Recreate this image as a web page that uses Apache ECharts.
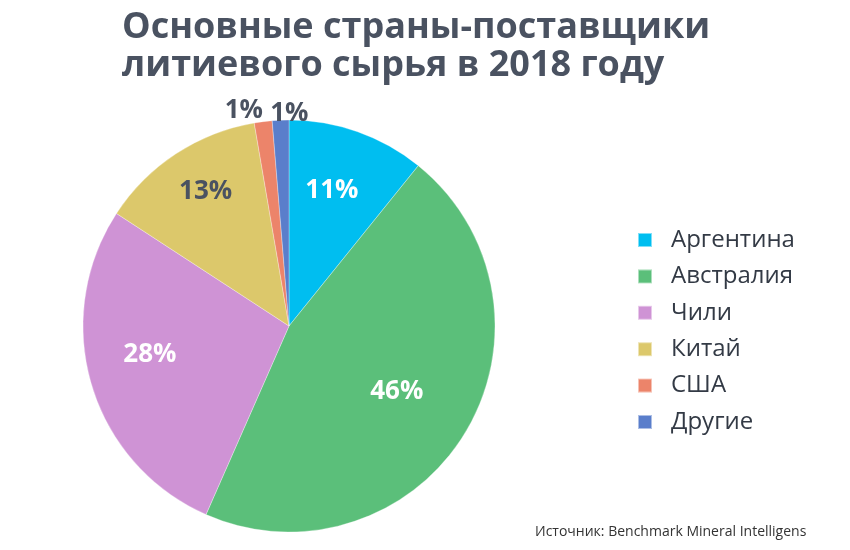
<!DOCTYPE html>
<html>
<head>
<meta charset="utf-8">
<script src="https://cdn.jsdelivr.net/npm/echarts@6/dist/echarts.min.js"></script>
<style>html,body{margin:0;padding:0;background:#fff}#c{width:850px;height:550px}</style>
</head>
<body>
<div id="c"></div>
<script>
const categories = ['Аргентина', 'Австралия', 'Чили', 'Китай', 'США', 'Другие'];
const shares = [10.8, 45.8, 27.6, 13.1, 1.4, 1.3];
const colors = ['#00bef0', '#5bbf7a', '#cf93d5', '#dcc86b', '#ec846a', '#5a7ecb'];
const labelColors = ['#ffffff', '#ffffff', '#ffffff', '#4a5261', '#4a5261', '#4a5261'];
const titleText = 'Основные страны-поставщики\nлитиевого сырья в 2018 году';
const sourceText = 'Источник: Benchmark Mineral Intelligens';

const CX = 289, CY = 326, R = 206;
const labelRadius = [144, 125, 141, 161, 217, 213];
const shiftX = [-5, 1, -4, 5, -18, 9];
const shiftY = [0, 1, -12, 0, 0, 0];

const chart = echarts.init(document.getElementById('c'));
chart.setOption({
  animation: false,
  color: colors,
  title: [{
    text: titleText,
    left: 117, top: 4,
    textStyle: { fontFamily: 'Open Sans', fontWeight: 'bold', fontSize: 36, lineHeight: 38, color: '#4a5261' }
  }, {
    text: sourceText,
    left: 530, top: 520,
    textStyle: { fontFamily: 'Open Sans', fontWeight: 'normal', fontSize: 14, color: '#333333' }
  }],
  legend: {
    orient: 'vertical',
    left: 632, top: 223,
    itemWidth: 14, itemHeight: 14, itemGap: 12.4,
    icon: 'rect',
    textStyle: { fontFamily: 'Open Sans', fontSize: 24, color: '#333a45', padding: [0, 0, 0, 14] },
    data: categories
  },
  series: [{
    type: 'pie',
    center: [CX, CY],
    radius: [0, R],
    startAngle: 90,
    clockwise: true,
    avoidLabelOverlap: false,
    itemStyle: { borderColor: 'rgba(255,255,255,0.5)', borderWidth: 0.6 },
    label: {
      show: true,
      position: 'inside',
      fontFamily: 'Open Sans',
      fontWeight: 'bold',
      fontSize: 26,
      formatter: p => Math.round(p.value) + '%'
    },
    labelLine: { show: false },
    labelLayout: function (p) {
      const r = p.labelRect;
      const cx = r.x + r.width / 2, cy = r.y + r.height / 2;
      const vx = cx - CX, vy = cy - CY;
      const d = Math.sqrt(vx * vx + vy * vy) || 1;
      const t = labelRadius[p.dataIndex] / d;
      return { dx: vx * t - vx + shiftX[p.dataIndex], dy: vy * t - vy + shiftY[p.dataIndex] };
    },
    data: categories.map((n, i) => ({
      name: n, value: shares[i],
      label: { color: labelColors[i] }
    }))
  }]
});
</script>
</body>
</html>
